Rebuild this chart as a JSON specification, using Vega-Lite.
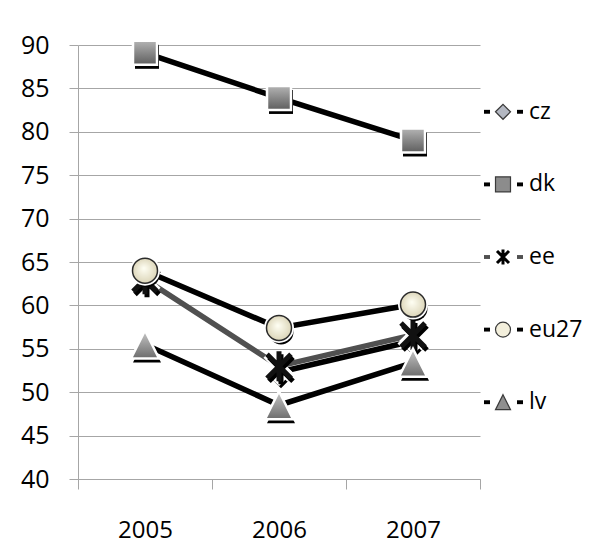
{
  "$schema": "https://vega.github.io/schema/vega-lite/v6.json",
  "background": "white",
  "padding": {"left": 20, "top": 33, "right": 5, "bottom": 4},
  "config": {"font": "Open Sans", "view": {"stroke": null}},
  "bounds": "flush",
  "spacing": 0,
  "datasets": {
    "d": [
      {"series": "cz", "year": "2006", "value": 52.3},
      {"series": "cz", "year": "2007", "value": 55.9},
      {"series": "dk", "year": "2005", "value": 89.1},
      {"series": "dk", "year": "2006", "value": 83.9},
      {"series": "dk", "year": "2007", "value": 79.0},
      {"series": "ee", "year": "2005", "value": 63.0},
      {"series": "ee", "year": "2006", "value": 53.0},
      {"series": "ee", "year": "2007", "value": 56.6},
      {"series": "eu27", "year": "2005", "value": 64.0},
      {"series": "eu27", "year": "2006", "value": 57.4},
      {"series": "eu27", "year": "2007", "value": 60.1},
      {"series": "lv", "year": "2005", "value": 55.5},
      {"series": "lv", "year": "2006", "value": 48.5},
      {"series": "lv", "year": "2007", "value": 53.4}
    ]
  },
  "hconcat": [
    {
      "width": 402,
      "height": 434,
      "data": {"name": "d"},
      "encoding": {
        "x": {
          "field": "year", "type": "ordinal",
          "scale": {"type": "band", "domain": ["2005", "2006", "2007"], "paddingInner": 0, "paddingOuter": 0},
          "axis": {"title": null, "labelAngle": 0, "labelFontSize": 24, "labelColor": "black", "labelFont": "Open Sans",
                   "tickBand": "extent", "tickSize": 10, "tickColor": "#a6a6a6", "domainColor": "#a6a6a6",
                   "labelPadding": 29, "grid": false}
        },
        "y": {
          "field": "value", "type": "quantitative",
          "scale": {"domain": [40, 90], "nice": false, "zero": false},
          "axis": {"title": null, "values": [40, 45, 50, 55, 60, 65, 70, 75, 80, 85, 90], "labelFontSize": 25,
                   "labelColor": "black", "labelFont": "Open Sans", "tickSize": 9, "labelPadding": 20, "grid": true,
                   "gridColor": "#a6a6a6", "tickColor": "#a6a6a6", "domainColor": "#a6a6a6"}
        }
      },
      "layer": [
        {
          "mark": {"type": "line", "strokeWidth": 5.5, "strokeCap": "butt"},
          "encoding": {
            "color": {"field": "series", "type": "nominal",
                      "scale": {"domain": ["cz", "dk", "ee", "eu27", "lv"], "range": ["#000000", "#000000", "#505050", "#000000", "#000000"]},
                      "legend": null}
          }
        },
        {
          "transform": [{"filter": "datum.series === 'cz'"}],
          "layer": [
            {"mark": {"type": "point", "shape": "diamond", "size": 576, "filled": true, "fill": "black", "strokeWidth": 0, "opacity": 1, "xOffset": 2, "yOffset": 4}},
            {"mark": {"type": "point", "shape": "diamond", "size": 576, "filled": true, "opacity": 1, "stroke": "white", "strokeWidth": 2.5,
                      "fill": {"gradient": "linear", "x1": 0, "y1": 0, "x2": 0, "y2": 1, "stops": [{"offset": 0, "color": "#d8dbe3"}, {"offset": 1, "color": "#7c808a"}]}}}
          ]
        },
        {
          "transform": [{"filter": "datum.series === 'dk'"}],
          "layer": [
            {"mark": {"type": "point", "shape": "square", "size": 576, "filled": true, "fill": "black", "strokeWidth": 0, "opacity": 1, "xOffset": 2, "yOffset": 4}},
            {"mark": {"type": "point", "shape": "square", "size": 576, "filled": true, "opacity": 1, "stroke": "white", "strokeWidth": 2.5,
                      "fill": {"gradient": "linear", "x1": 0, "y1": 0, "x2": 0, "y2": 1, "stops": [{"offset": 0, "color": "#b4b4b4"}, {"offset": 0.5, "color": "#888888"}, {"offset": 1, "color": "#5e5e5e"}]}}}
          ]
        },
        {
          "transform": [{"filter": "datum.series === 'ee'"}],
          "layer": [
            {"mark": {"type": "point", "shape": "M-0.8,-0.8L0.8,0.8M0.8,-0.8L-0.8,0.8M0,-1L0,1", "size": 900, "filled": false, "stroke": "white", "strokeWidth": 10, "opacity": 1}},
            {"mark": {"type": "point", "shape": "M-0.8,-0.8L0.8,0.8M0.8,-0.8L-0.8,0.8M0,-1L0,1", "size": 900, "filled": false, "stroke": "black", "strokeWidth": 5, "opacity": 1, "xOffset": 2, "yOffset": 3}},
            {"mark": {"type": "point", "shape": "M-0.8,-0.8L0.8,0.8M0.8,-0.8L-0.8,0.8M0,-1L0,1", "size": 900, "filled": false, "stroke": "#111111", "strokeWidth": 5, "opacity": 1}}
          ]
        },
        {
          "transform": [{"filter": "datum.series === 'eu27'"}],
          "layer": [
            {"mark": {"type": "point", "shape": "circle", "size": 625, "filled": true, "fill": "black", "strokeWidth": 0, "opacity": 1, "xOffset": 2, "yOffset": 4}},
            {"mark": {"type": "point", "shape": "circle", "size": 900, "filled": true, "fill": "white", "strokeWidth": 0, "opacity": 1}},
            {"mark": {"type": "point", "shape": "circle", "size": 625, "filled": true, "opacity": 1, "stroke": "#2a2a2a", "strokeWidth": 1.5,
                      "fill": {"gradient": "radial", "x1": 0.45, "y1": 0.4, "r1": 0, "x2": 0.5, "y2": 0.5, "r2": 0.55, "stops": [{"offset": 0, "color": "#fffff4"}, {"offset": 1, "color": "#d9d2b4"}]}}}
          ]
        },
        {
          "transform": [{"filter": "datum.series === 'lv'"}],
          "layer": [
            {"mark": {"type": "point", "shape": "M0,-1L1,1L-1,1Z", "size": 784, "filled": true, "fill": "black", "strokeWidth": 0, "opacity": 1, "xOffset": 2, "yOffset": 4}},
            {"mark": {"type": "point", "shape": "M0,-1L1,1L-1,1Z", "size": 784, "filled": true, "opacity": 1, "stroke": "white", "strokeWidth": 2.5,
                      "fill": {"gradient": "linear", "x1": 0, "y1": 0, "x2": 0, "y2": 1, "stops": [{"offset": 0, "color": "#c8c8c8"}, {"offset": 1, "color": "#6c6c6c"}]}}}
          ]
        }
      ]
    },
    {
      "width": 46,
      "height": 424,
      "data": {"name": "d"},
      "transform": [{"aggregate": [{"op": "count", "as": "n"}], "groupby": ["series"]}],
      "encoding": {
        "y": {"field": "series", "type": "nominal",
              "scale": {"type": "point", "padding": 0.92, "domain": ["cz", "dk", "ee", "eu27", "lv"]},
              "axis": null}
      },
      "layer": [
        {
          "mark": {"type": "point", "shape": "M-1,-0.65H1V0.65H-1Z", "size": 36, "filled": true, "opacity": 1, "xOffset": -16},
          "encoding": {"color": {"field": "series", "type": "nominal", "scale": {"domain": ["cz", "dk", "ee", "eu27", "lv"], "range": ["#000000", "#000000", "#505050", "#000000", "#000000"]}, "legend": null}}
        },
        {
          "mark": {"type": "point", "shape": "M-1,-0.65H1V0.65H-1Z", "size": 36, "filled": true, "opacity": 1, "xOffset": 17},
          "encoding": {"color": {"field": "series", "type": "nominal", "scale": {"domain": ["cz", "dk", "ee", "eu27", "lv"], "range": ["#000000", "#000000", "#505050", "#000000", "#000000"]}, "legend": null}}
        },
        {
          "transform": [{"filter": "datum.series !== 'ee'"}],
          "mark": {"type": "point", "filled": true, "opacity": 1, "size": 225, "stroke": "#3a3a3a", "strokeWidth": 1.2},
          "encoding": {
            "shape": {"field": "series", "type": "nominal", "scale": {"domain": ["cz", "dk", "eu27", "lv"], "range": ["diamond", "square", "circle", "M0,-1L1,1L-1,1Z"]}, "legend": null},
            "fill": {"field": "series", "type": "nominal", "scale": {"domain": ["cz", "dk", "eu27", "lv"], "range": ["#b4b8c2", "#8c8c8c", "#f3efdc", "#8f8f8f"]}, "legend": null}
          }
        },
        {
          "transform": [{"filter": "datum.series === 'ee'"}],
          "mark": {"type": "point", "shape": "M-0.8,-0.8L0.8,0.8M0.8,-0.8L-0.8,0.8M0,-1L0,1", "size": 225, "filled": false, "stroke": "black", "strokeWidth": 3, "opacity": 1}
        },
        {
          "mark": {"type": "text", "align": "left", "baseline": "middle", "dx": 26, "fontSize": 23, "font": "Open Sans", "color": "black"},
          "encoding": {"text": {"field": "series", "type": "nominal"}}
        }
      ]
    }
  ]
}
